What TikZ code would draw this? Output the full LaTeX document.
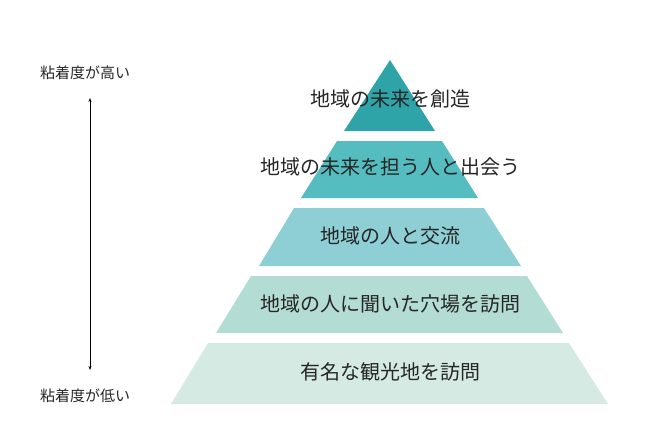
\documentclass[tikz,border=0pt]{standalone}
\usepackage{fontspec}
\setmainfont{Noto Sans CJK JP}
\usetikzlibrary{arrows.meta}
\definecolor{c1}{HTML}{2EA3A8}
\definecolor{c2}{HTML}{55BDBF}
\definecolor{c3}{HTML}{8ECFD6}
\definecolor{c4}{HTML}{B2DCD4}
\definecolor{c5}{HTML}{D5EAE3}
\begin{document}
\begin{tikzpicture}[x=1pt,y=-1pt,
  lbl/.style={font=\fontsize{20}{22}\selectfont, text=black!85, inner sep=0},
  side/.style={font=\fontsize{15}{17}\selectfont, text=black!85, inner sep=0}]
\useasboundingbox (0,0) rectangle (650,439);
\fill[c1] (390,60) -- (435,131) -- (344,131) -- cycle;
\fill[c2] (337,141) -- (442,141) -- (478,198) -- (301,198) -- cycle;
\fill[c3] (294,208) -- (484,208) -- (521,266) -- (259,266) -- cycle;
\fill[c4] (251,276) -- (527,276) -- (563,333) -- (216,333) -- cycle;
\fill[c5] (208,343) -- (569,343) -- (608,404) -- (171,404) -- cycle;
\node[lbl] (t1) at (390,99) {地域の未来を創造};
\node[lbl] (t2) at (390,167) {地域の未来を担う人と出会う};
\node[lbl] (t3) at (390,236) {地域の人と交流};
\node[lbl] (t4) at (390,304) {地域の人に聞いた穴場を訪問};
\node[lbl] (t5) at (390,372) {有名な観光地を訪問};
\node[side] (hi) at (85,73) {粘着度が高い};
\node[side] (lo) at (85,396) {粘着度が低い};
\coordinate (a1) at (90,98);
\coordinate (a2) at (90,370);
\draw[{Stealth[length=4pt]}-{Stealth[length=4pt]}, line width=0.6pt] (a1) -- (a2);
\end{tikzpicture}
\end{document}
